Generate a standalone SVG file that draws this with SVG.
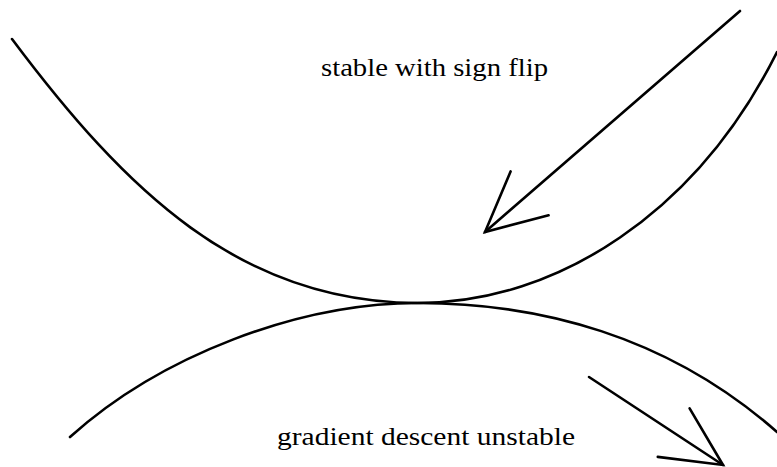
<svg xmlns="http://www.w3.org/2000/svg" width="777" height="467" viewBox="0 0 777 467">
  <style>
    .curve { fill: none; stroke: #000; stroke-width: 2.6; stroke-linecap: round; }
    .arrow { fill: none; stroke: #000; stroke-width: 2.6; stroke-linecap: round; }
    .label { font-family: "Liberation Serif", "Times New Roman", serif; font-size: 25px; fill: #000; }
  </style>
  <defs>
    <marker id="ah" markerUnits="userSpaceOnUse" orient="auto" markerWidth="80" markerHeight="80" viewBox="-70 -40 80 80" refX="0" refY="0" overflow="visible">
      <path d="M-59,-29 L0,0 L-59,29" fill="none" stroke="#000" stroke-width="2.6" stroke-linecap="round" stroke-linejoin="miter"/>
    </marker>
  </defs>
  <rect width="777" height="467" fill="#fff"/>
  <g id="upper-curve">
    <path class="curve" d="M12,39 C125,190 240,303 418,303 C558,303 697,212 777,52"/>
  </g>
  <g id="lower-curve">
    <path class="curve" d="M70,437 C160,356 298,303 418,303 C538,303 667,335 777,432"/>
  </g>
  <g id="connectors">
    <line class="arrow" x1="740" y1="11" x2="485" y2="232" marker-end="url(#ah)"/>
    <line class="arrow" x1="589" y1="377" x2="723" y2="465" marker-end="url(#ah)"/>
  </g>
  <g id="labels">
    <text class="label" x="321" y="76" textLength="227" lengthAdjust="spacingAndGlyphs">stable with sign flip</text>
    <text class="label" x="277" y="445" textLength="298" lengthAdjust="spacingAndGlyphs">gradient descent unstable</text>
  </g>
</svg>
